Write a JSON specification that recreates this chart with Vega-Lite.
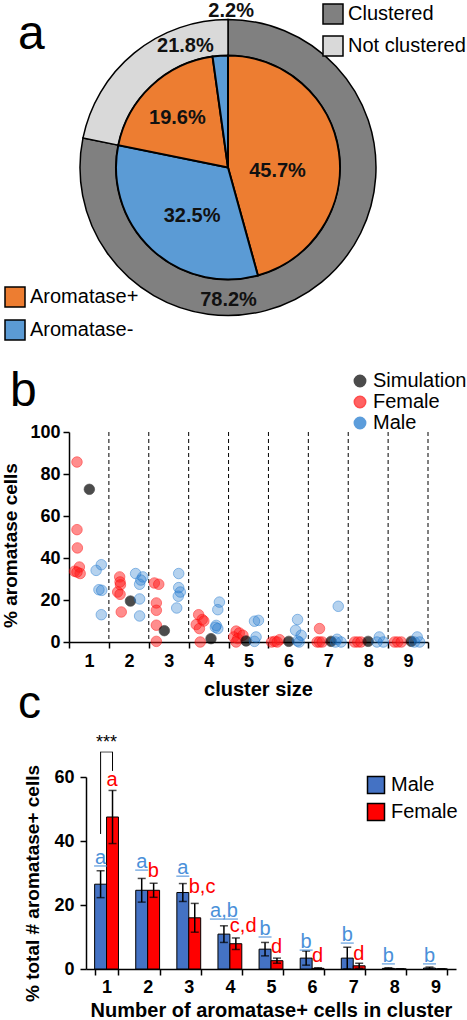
{
  "$schema": "https://vega.github.io/schema/vega-lite/v6.json",
  "padding": 0,
  "background": "white",
  "config": {
    "font": "Liberation Sans",
    "view": {"stroke": null},
    "axis": {"domainColor": "black", "tickColor": "black", "labelColor": "black", "titleColor": "black", "grid": false, "labelFontSize": 18, "labelFontWeight": "bold", "titleFontSize": 18, "titleFontWeight": "bold", "tickSize": 6, "domainWidth": 1.5, "tickWidth": 1.5},
    "legend": {"labelFontSize": 20, "labelColor": "black"}
  },
  "datasets": {
    "outer": [
      {"g": "Clustered", "v": 78.2, "i": 1, "lab": "78.2%"},
      {"g": "Not clustered", "v": 21.8, "i": 2, "lab": "21.8%"}
    ],
    "inner": [
      {"g": "Aromatase+", "v": 45.7, "i": 1, "lab": "45.7%"},
      {"g": "Aromatase-", "v": 32.5, "i": 2, "lab": "32.5%"},
      {"g": "Aromatase+", "v": 19.6, "i": 3, "lab": "19.6%"},
      {"g": "Aromatase-", "v": 2.2, "i": 4, "lab": "2.2%"}
    ],
    "pts": [
      {"grp": "Female", "x": 0.70, "y": 85.7}, {"grp": "Female", "x": 0.70, "y": 53.5}, {"grp": "Female", "x": 0.71, "y": 44.8}, {"grp": "Female", "x": 0.64, "y": 33.7}, {"grp": "Female", "x": 0.76, "y": 35.7}, {"grp": "Female", "x": 0.78, "y": 32.6}, {"grp": "Female", "x": 0.70, "y": 33.3},
      {"grp": "Female", "x": 1.77, "y": 31.0}, {"grp": "Female", "x": 1.78, "y": 28.6}, {"grp": "Female", "x": 1.79, "y": 27.2}, {"grp": "Female", "x": 1.72, "y": 23.8}, {"grp": "Female", "x": 1.78, "y": 22.7}, {"grp": "Female", "x": 1.81, "y": 14.3},
      {"grp": "Female", "x": 2.64, "y": 28.1}, {"grp": "Female", "x": 2.75, "y": 27.5}, {"grp": "Female", "x": 2.69, "y": 18.6}, {"grp": "Female", "x": 2.69, "y": 15.1}, {"grp": "Female", "x": 2.69, "y": 8.0}, {"grp": "Female", "x": 2.69, "y": 0.3},
      {"grp": "Female", "x": 3.75, "y": 13.0}, {"grp": "Female", "x": 3.69, "y": 8.3}, {"grp": "Female", "x": 3.77, "y": 6.4}, {"grp": "Female", "x": 3.84, "y": 10.7}, {"grp": "Female", "x": 3.88, "y": 10.0}, {"grp": "Female", "x": 3.79, "y": 0.0},
      {"grp": "Female", "x": 4.69, "y": 5.2}, {"grp": "Female", "x": 4.77, "y": 4.3}, {"grp": "Female", "x": 4.63, "y": 2.4}, {"grp": "Female", "x": 4.73, "y": 1.6}, {"grp": "Female", "x": 4.69, "y": 0.0}, {"grp": "Female", "x": 4.86, "y": 3.2},
      {"grp": "Female", "x": 5.58, "y": 0.0}, {"grp": "Female", "x": 5.66, "y": 0.3}, {"grp": "Female", "x": 5.78, "y": 1.1}, {"grp": "Female", "x": 5.72, "y": 0.0},
      {"grp": "Female", "x": 6.78, "y": 6.4}, {"grp": "Female", "x": 6.72, "y": 0.0}, {"grp": "Female", "x": 6.78, "y": 0.0}, {"grp": "Female", "x": 6.85, "y": 0.0},
      {"grp": "Female", "x": 7.66, "y": 0.0}, {"grp": "Female", "x": 7.74, "y": 0.0}, {"grp": "Female", "x": 7.82, "y": 0.0},
      {"grp": "Female", "x": 8.66, "y": 0.0}, {"grp": "Female", "x": 8.74, "y": 0.0}, {"grp": "Female", "x": 8.83, "y": 0.0},
      {"grp": "Simulation", "x": 1.01, "y": 72.7}, {"grp": "Simulation", "x": 2.04, "y": 19.5}, {"grp": "Simulation", "x": 2.89, "y": 5.4}, {"grp": "Simulation", "x": 4.06, "y": 1.6}, {"grp": "Simulation", "x": 4.94, "y": 0.5}, {"grp": "Simulation", "x": 6.01, "y": 0.3}, {"grp": "Simulation", "x": 7.07, "y": 0.3}, {"grp": "Simulation", "x": 8.0, "y": 0.3}, {"grp": "Simulation", "x": 9.08, "y": 0.3},
      {"grp": "Male", "x": 1.18, "y": 34.1}, {"grp": "Male", "x": 1.31, "y": 36.8}, {"grp": "Male", "x": 1.25, "y": 24.9}, {"grp": "Male", "x": 1.32, "y": 24.6}, {"grp": "Male", "x": 1.31, "y": 13.0},
      {"grp": "Male", "x": 2.17, "y": 32.6}, {"grp": "Male", "x": 2.35, "y": 31.0}, {"grp": "Male", "x": 2.27, "y": 27.5}, {"grp": "Male", "x": 2.27, "y": 20.5}, {"grp": "Male", "x": 2.27, "y": 12.4}, {"grp": "Male", "x": 2.30, "y": 29.5},
      {"grp": "Male", "x": 3.25, "y": 32.6}, {"grp": "Male", "x": 3.25, "y": 25.9}, {"grp": "Male", "x": 3.29, "y": 23.8}, {"grp": "Male", "x": 3.24, "y": 21.8}, {"grp": "Male", "x": 3.20, "y": 16.2},
      {"grp": "Male", "x": 4.27, "y": 19.0}, {"grp": "Male", "x": 4.23, "y": 15.4}, {"grp": "Male", "x": 4.19, "y": 7.9}, {"grp": "Male", "x": 4.23, "y": 6.4}, {"grp": "Male", "x": 4.17, "y": 7.0},
      {"grp": "Male", "x": 5.15, "y": 9.9}, {"grp": "Male", "x": 5.25, "y": 10.3}, {"grp": "Male", "x": 5.19, "y": 2.4}, {"grp": "Male", "x": 5.15, "y": 0.3},
      {"grp": "Male", "x": 6.23, "y": 10.7}, {"grp": "Male", "x": 6.18, "y": 5.6}, {"grp": "Male", "x": 6.32, "y": 3.2}, {"grp": "Male", "x": 6.23, "y": 0.5}, {"grp": "Male", "x": 6.27, "y": 0.0},
      {"grp": "Male", "x": 7.25, "y": 17.0}, {"grp": "Male", "x": 7.22, "y": 1.3}, {"grp": "Male", "x": 7.32, "y": 0.0}, {"grp": "Male", "x": 7.18, "y": 0.0},
      {"grp": "Male", "x": 8.28, "y": 2.4}, {"grp": "Male", "x": 8.22, "y": 0.0}, {"grp": "Male", "x": 8.38, "y": 0.0},
      {"grp": "Male", "x": 9.23, "y": 2.4}, {"grp": "Male", "x": 9.16, "y": 0.0}, {"grp": "Male", "x": 9.29, "y": 0.0}
    ],
    "bars": [
      {"n": "1", "sex": "Male", "m": 26.5, "lo": 22.3, "hi": 30.7, "lab": "a", "ly": 34.7},
      {"n": "2", "sex": "Male", "m": 24.6, "lo": 20.9, "hi": 28.3, "lab": "a", "ly": 33.4},
      {"n": "3", "sex": "Male", "m": 23.9, "lo": 21.1, "hi": 26.7, "lab": "a", "ly": 31.5},
      {"n": "4", "sex": "Male", "m": 10.9, "lo": 8.3, "hi": 13.5, "lab": "a,b", "ly": 18.1},
      {"n": "5", "sex": "Male", "m": 6.2, "lo": 4.1, "hi": 8.3, "lab": "b", "ly": 12.5},
      {"n": "6", "sex": "Male", "m": 3.4, "lo": 1.2, "hi": 5.6, "lab": "b", "ly": 8.4},
      {"n": "7", "sex": "Male", "m": 3.4, "lo": 0.0, "hi": 6.8, "lab": "b", "ly": 10.6},
      {"n": "8", "sex": "Male", "m": 0.2, "lo": 0.0, "hi": 0.4, "lab": "b", "ly": 4.1},
      {"n": "9", "sex": "Male", "m": 0.3, "lo": 0.0, "hi": 0.6, "lab": "b", "ly": 4.1},
      {"n": "1", "sex": "Female", "m": 47.5, "lo": 39.2, "hi": 55.8, "lab": "a", "ly": 59.0},
      {"n": "2", "sex": "Female", "m": 24.6, "lo": 22.4, "hi": 26.8, "lab": "b", "ly": 30.6},
      {"n": "3", "sex": "Female", "m": 16.0, "lo": 11.5, "hi": 20.5, "lab": "b,c", "ly": 25.6},
      {"n": "4", "sex": "Female", "m": 7.9, "lo": 6.1, "hi": 9.7, "lab": "c,d", "ly": 13.4},
      {"n": "5", "sex": "Female", "m": 2.6, "lo": 1.8, "hi": 3.4, "lab": "d", "ly": 6.9},
      {"n": "6", "sex": "Female", "m": 0.2, "lo": 0.0, "hi": 0.4, "lab": "d", "ly": 4.1},
      {"n": "7", "sex": "Female", "m": 1.0, "lo": 0.2, "hi": 1.8, "lab": "d", "ly": 4.7},
      {"n": "8", "sex": "Female", "m": 0.0, "lo": 0.0, "hi": 0.0, "lab": "", "ly": 0},
      {"n": "9", "sex": "Female", "m": 0.0, "lo": 0.0, "hi": 0.0, "lab": "", "ly": 0}
    ],
    "brk": [
      {"n": "1", "sex": "Male", "y1": 42.2, "y2": 67.8},
      {"n": "1", "sex": "Female", "y1": 61.9, "y2": 67.8}
    ]
  },
  "spacing": 25,
  "resolve": {"scale": {"color": "independent", "stroke": "independent", "fillOpacity": "independent"}},
  "vconcat": [
    {
      "width": 456,
      "height": 333,
      "title": {"text": "a", "anchor": "start", "frame": "group", "fontSize": 48, "fontWeight": "normal", "baseline": "alphabetic", "dx": 18, "dy": 96, "offset": 0, "color": "black"},
      "layer": [
        {
          "data": {"name": "outer"},
          "mark": {"type": "arc", "outerRadius": 148, "innerRadius": 112, "stroke": "black", "strokeWidth": 1.5},
          "encoding": {
            "theta": {"field": "v", "type": "quantitative", "stack": true},
            "order": {"field": "i", "type": "quantitative"},
            "color": {"field": "g", "type": "nominal", "scale": {"domain": ["Clustered", "Not clustered"], "range": ["#808080", "#D9D9D9"]},
              "legend": {"title": null, "orient": "none", "legendX": 322, "legendY": 2, "symbolType": "square", "symbolSize": 400, "symbolStrokeColor": "black", "symbolStrokeWidth": 1.5, "labelFontSize": 20, "rowPadding": 6, "labelOffset": 4}}
          }
        },
        {
          "data": {"name": "inner"},
          "mark": {"type": "arc", "outerRadius": 112, "stroke": "black", "strokeWidth": 2},
          "encoding": {
            "theta": {"field": "v", "type": "quantitative", "stack": true},
            "order": {"field": "i", "type": "quantitative"},
            "color": {"field": "g", "type": "nominal", "scale": {"domain": ["Aromatase+", "Aromatase-"], "range": ["#ED7D31", "#5B9BD5"]},
              "legend": {"title": null, "orient": "none", "legendX": 4, "legendY": 285, "symbolType": "square", "symbolSize": 400, "symbolStrokeColor": "black", "symbolStrokeWidth": 1.5, "labelFontSize": 20, "rowPadding": 7, "labelOffset": 4}}
          }
        },
        {
          "data": {"name": "inner"},
          "mark": {"type": "text", "radius": 50, "dx": 0, "dy": 10, "fontSize": 20, "fontWeight": "bold", "color": "#111111"},
          "encoding": {"theta": {"field": "v", "type": "quantitative", "stack": true}, "order": {"field": "i", "type": "quantitative"}, "text": {"field": "lab"}, "opacity": {"condition": {"test": "datum.i == 1", "value": 1}, "value": 0}}
        },
        {
          "data": {"name": "inner"},
          "mark": {"type": "text", "radius": 60, "dx": 5, "dy": 5, "fontSize": 20, "fontWeight": "bold", "color": "#111111"},
          "encoding": {"theta": {"field": "v", "type": "quantitative", "stack": true}, "order": {"field": "i", "type": "quantitative"}, "text": {"field": "lab"}, "opacity": {"condition": {"test": "datum.i == 2", "value": 1}, "value": 0}}
        },
        {
          "data": {"name": "inner"},
          "mark": {"type": "text", "radius": 71, "dx": -2, "dy": 2, "fontSize": 20, "fontWeight": "bold", "color": "#111111"},
          "encoding": {"theta": {"field": "v", "type": "quantitative", "stack": true}, "order": {"field": "i", "type": "quantitative"}, "text": {"field": "lab"}, "opacity": {"condition": {"test": "datum.i == 3", "value": 1}, "value": 0}}
        },
        {
          "data": {"name": "inner"},
          "mark": {"type": "text", "radius": 157, "dx": 14, "dy": 0, "fontSize": 20, "fontWeight": "bold", "color": "#111111"},
          "encoding": {"theta": {"field": "v", "type": "quantitative", "stack": true}, "order": {"field": "i", "type": "quantitative"}, "text": {"field": "lab"}, "opacity": {"condition": {"test": "datum.i == 4", "value": 1}, "value": 0}}
        },
        {
          "data": {"name": "outer"},
          "mark": {"type": "text", "radius": 132, "dx": -83, "dy": 30, "fontSize": 20, "fontWeight": "bold", "color": "#111111"},
          "encoding": {"theta": {"field": "v", "type": "quantitative", "stack": true}, "order": {"field": "i", "type": "quantitative"}, "text": {"field": "lab"}, "opacity": {"condition": {"test": "datum.i == 1", "value": 1}, "value": 0}}
        },
        {
          "data": {"name": "outer"},
          "mark": {"type": "text", "radius": 129, "dx": 39, "dy": -22, "fontSize": 20, "fontWeight": "bold", "color": "#111111"},
          "encoding": {"theta": {"field": "v", "type": "quantitative", "stack": true}, "order": {"field": "i", "type": "quantitative"}, "text": {"field": "lab"}, "opacity": {"condition": {"test": "datum.i == 2", "value": 1}, "value": 0}}
        }
      ],
      "resolve": {"scale": {"color": "independent"}}
    },
    {
      "spacing": -18,
      "resolve": {"scale": {"color": "independent", "stroke": "independent", "fillOpacity": "independent"}},
      "vconcat": [
        {
          "width": 428,
          "height": 210,
          "title": {"text": "b", "anchor": "start", "frame": "group", "fontSize": 48, "fontWeight": "normal", "baseline": "alphabetic", "dx": 10, "dy": 83, "offset": 0, "color": "black"},
          "layer": [
            {
              "data": {"values": [{"b": 1.5}, {"b": 2.5}, {"b": 3.5}, {"b": 4.5}, {"b": 5.5}, {"b": 6.5}, {"b": 7.5}, {"b": 8.5}, {"b": 9.5}]},
              "mark": {"type": "rule", "strokeDash": [4, 3], "color": "black", "strokeWidth": 1},
              "encoding": {"x": {"field": "b", "type": "quantitative", "scale": {"domain": [0.5, 9.5], "range": [69, 428], "nice": false, "zero": false},
                  "axis": {"values": [0.5, 1.5, 2.5, 3.5, 4.5, 5.5, 6.5, 7.5, 8.5, 9.5], "labelExpr": "datum.value < 9 ? format(datum.value + 0.5, 'd') : ''", "labelOffset": 20, "labelFlush": false, "labelOverlap": false, "labelBound": false, "title": "cluster size", "titleFontSize": 20, "titleX": 258, "labelPadding": 4, "titlePadding": 9}}}
            },
            {
              "data": {"name": "pts"},
              "mark": {"type": "circle", "size": 110, "strokeWidth": 1, "strokeOpacity": 0.7},
              "encoding": {
                "x": {"field": "x", "type": "quantitative"},
                "y": {"field": "y", "type": "quantitative", "scale": {"domain": [0, 100], "nice": false},
                  "axis": {"values": [0, 20, 40, 60, 80, 100], "title": "% aromatase cells", "titleFontSize": 19, "offset": -69, "labelPadding": 3, "titleX": -49, "titleY": 113, "titleBaseline": "bottom"}},
                "color": {"field": "grp", "type": "nominal", "scale": {"domain": ["Simulation", "Female", "Male"], "range": ["#000000", "#FF2020", "#1874CD"]},
                  "legend": {"title": null, "orient": "none", "legendX": 350, "legendY": -61, "symbolType": "circle", "symbolSize": 130, "labelFontSize": 20, "rowPadding": 1, "labelOffset": 3}},
                "stroke": {"field": "grp", "type": "nominal", "scale": {"domain": ["Simulation", "Female", "Male"], "range": ["#000000", "#FF0000", "#1874CD"]}},
                "fillOpacity": {"field": "grp", "type": "nominal", "scale": {"domain": ["Simulation", "Female", "Male"], "range": [1, 0.45, 0.45]}}
              }
            }
          ]
        },
        {
          "width": 456,
          "height": 192,
          "title": {"text": "c", "anchor": "start", "frame": "group", "fontSize": 46, "fontWeight": "normal", "baseline": "alphabetic", "dx": 18, "dy": 30, "offset": 0, "color": "black"},
          "layer": [
            {
              "data": {"name": "bars"},
              "mark": {"type": "bar", "stroke": "black", "strokeWidth": 1},
              "encoding": {
                "x": {"field": "n", "type": "nominal", "scale": {"range": [86, 456], "paddingInner": 0.42, "paddingOuter": 0.21},
                  "axis": {"labelAngle": 0, "tickBand": "extent", "title": "Number of aromatase+ cells in cluster", "titleFontSize": 20, "labelPadding": 3, "titlePadding": 4}},
                "xOffset": {"field": "sex", "type": "nominal", "sort": ["Male", "Female"], "scale": {"paddingInner": 0}},
                "y": {"field": "m", "type": "quantitative", "scale": {"domain": [0, 60], "nice": false},
                  "axis": {"values": [0, 10, 20, 30, 40, 50, 60], "title": "% total # aromatase+ cells", "titleFontSize": 19, "offset": -86, "labelPadding": 6, "titleX": -44, "titleY": 106, "titleBaseline": "bottom"}},
                "color": {"field": "sex", "type": "nominal", "sort": ["Male", "Female"], "scale": {"domain": ["Male", "Female"], "range": ["#4472C4", "#FF0000"]},
                  "legend": {"title": null, "orient": "none", "legendX": 366, "legendY": -2, "symbolType": "square", "symbolSize": 289, "symbolStrokeColor": "black", "symbolStrokeWidth": 1.5, "labelFontSize": 20, "rowPadding": 3, "labelOffset": 5}}
              }
            },
            {
              "data": {"name": "bars"},
              "mark": {"type": "rule", "color": "black", "strokeWidth": 1.5},
              "encoding": {"x": {"field": "n", "type": "nominal"}, "xOffset": {"field": "sex", "type": "nominal", "sort": ["Male", "Female"]}, "y": {"field": "lo", "type": "quantitative"}, "y2": {"field": "hi"}}
            },
            {
              "data": {"name": "bars"},
              "mark": {"type": "tick", "color": "black", "size": 8, "thickness": 1.5},
              "encoding": {"x": {"field": "n", "type": "nominal"}, "xOffset": {"field": "sex", "type": "nominal", "sort": ["Male", "Female"]}, "y": {"field": "hi", "type": "quantitative"}}
            },
            {
              "data": {"name": "bars"},
              "mark": {"type": "tick", "color": "black", "size": 8, "thickness": 1.5},
              "encoding": {"x": {"field": "n", "type": "nominal"}, "xOffset": {"field": "sex", "type": "nominal", "sort": ["Male", "Female"]}, "y": {"field": "lo", "type": "quantitative"}}
            },
            {
              "data": {"name": "bars"},
              "transform": [{"filter": "datum.sex == 'Male'"}],
              "mark": {"type": "text", "fontSize": 20, "color": "#4A90D9", "baseline": "middle", "align": "center"},
              "encoding": {"x": {"field": "n", "type": "nominal"}, "xOffset": {"field": "sex", "type": "nominal", "sort": ["Male", "Female"]}, "y": {"field": "ly", "type": "quantitative"}, "text": {"field": "lab"}}
            },
            {
              "data": {"name": "bars"},
              "transform": [{"filter": "datum.sex == 'Male'"}],
              "mark": {"type": "tick", "color": "#4A90D9", "thickness": 1.5, "yOffset": 8},
              "encoding": {"x": {"field": "n", "type": "nominal"}, "xOffset": {"field": "sex", "type": "nominal", "sort": ["Male", "Female"]}, "y": {"field": "ly", "type": "quantitative"},
                "size": {"condition": {"test": "length(datum.lab) > 1", "value": 28}, "value": 13}}
            },
            {
              "data": {"name": "bars"},
              "transform": [{"filter": "datum.sex == 'Female' && datum.lab != ''"}],
              "mark": {"type": "text", "fontSize": 20, "color": "#FF0000", "baseline": "middle", "align": "left", "dx": -6},
              "encoding": {"x": {"field": "n", "type": "nominal"}, "xOffset": {"field": "sex", "type": "nominal", "sort": ["Male", "Female"]}, "y": {"field": "ly", "type": "quantitative"}, "text": {"field": "lab"}}
            },
            {
              "data": {"name": "brk"},
              "mark": {"type": "rule", "color": "black", "strokeWidth": 1},
              "encoding": {"x": {"field": "n", "type": "nominal"}, "xOffset": {"field": "sex", "type": "nominal", "sort": ["Male", "Female"]}, "y": {"field": "y1", "type": "quantitative"}, "y2": {"field": "y2"}}
            },
            {
              "data": {"values": [{"n": "1", "y": 67.8}]},
              "mark": {"type": "tick", "color": "black", "size": 13, "thickness": 1},
              "encoding": {"x": {"field": "n", "type": "nominal"}, "y": {"field": "y", "type": "quantitative"}}
            },
            {
              "data": {"values": [{"n": "1", "y": 70.5, "t": "***"}]},
              "mark": {"type": "text", "fontSize": 18, "color": "black", "baseline": "middle"},
              "encoding": {"x": {"field": "n", "type": "nominal"}, "y": {"field": "y", "type": "quantitative"}, "text": {"field": "t"}}
            }
          ]
        }
      ]
    }
  ]
}
